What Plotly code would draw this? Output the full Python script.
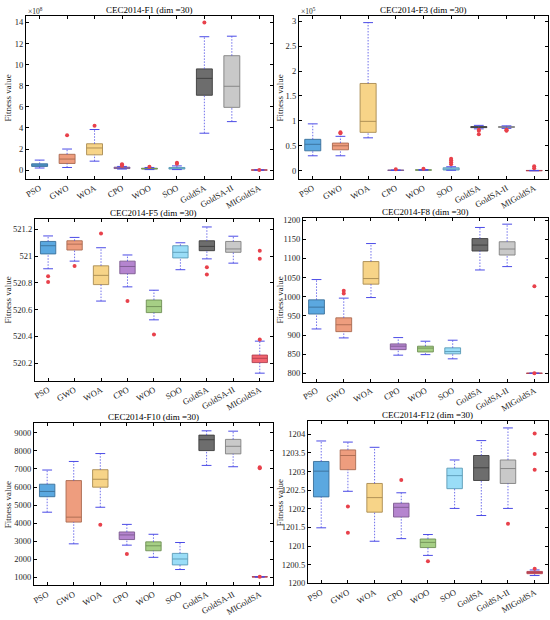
import plotly.graph_objects as go

# ---------------------------------------------------------------------------
# data
# ---------------------------------------------------------------------------
ALGOS = ["PSO", "GWO", "WOA", "CPO", "WOO", "SOO", "GoldSA", "GoldSA-II", "MIGoldSA"]

FILL = ["#5BA8E0", "#EE9D7E", "#F7D488", "#B585CF", "#A6CF85",
        "#9ADDF7", "#6D6D6D", "#C9C9C9", "#F26470"]
EDGE = ["#3A6F9A", "#A96A50", "#A88A50", "#7D5A90", "#6E8E55",
        "#5A9AB5", "#3C3C3C", "#808080", "#B04050"]

# CEC2014-F1 (x 1e8)
F1_LOW = [0.20, 0.25, 0.85, 0.10, 0.05, 0.05, 3.50, 4.60, 0.00]
F1_Q1 = [0.35, 0.63, 1.45, 0.15, 0.10, 0.10, 7.10, 5.95, 0.00]
F1_MED = [0.48, 1.05, 2.10, 0.22, 0.14, 0.18, 8.70, 7.95, 0.01]
F1_Q3 = [0.60, 1.50, 2.50, 0.28, 0.18, 0.25, 9.60, 10.85, 0.02]
F1_UP = [0.95, 2.00, 3.85, 0.35, 0.25, 0.40, 12.65, 12.70, 0.02]
F1_OUT_ALGO = ["GWO", "WOA", "CPO", "CPO", "CPO", "WOO", "SOO", "SOO", "GoldSA", "MIGoldSA"]
F1_OUT_VAL = [3.30, 4.20, 0.42, 0.50, 0.56, 0.32, 0.60, 0.70, 14.00, 0.02]

# CEC2014-F3 (x 1e5)
F3_LOW = [0.30, 0.30, 0.66, 0.005, 0.01, 0.01, 0.84, 0.85, 0.00]
F3_Q1 = [0.40, 0.42, 0.77, 0.008, 0.012, 0.015, 0.865, 0.87, 0.00]
F3_MED = [0.53, 0.50, 0.99, 0.010, 0.015, 0.030, 0.875, 0.875, 0.003]
F3_Q3 = [0.63, 0.555, 1.75, 0.012, 0.018, 0.060, 0.885, 0.885, 0.006]
F3_UP = [0.94, 0.69, 2.97, 0.015, 0.025, 0.080, 0.91, 0.90, 0.006]
F3_OUT_ALGO = ["GWO", "GWO", "CPO", "WOO", "SOO", "SOO", "SOO", "SOO",
               "GoldSA", "GoldSA", "GoldSA", "GoldSA-II", "GoldSA-II", "GoldSA-II",
               "MIGoldSA", "MIGoldSA"]
F3_OUT_VAL = [0.77, 0.75, 0.03, 0.04, 0.13, 0.17, 0.21, 0.24,
              0.82, 0.80, 0.73, 0.82, 0.81, 0.80, 0.05, 0.09]

# CEC2014-F5
F5_LOW = [520.905, 520.962, 520.664, 520.770, 520.524, 520.898, 520.979, 520.947, 520.126]
F5_Q1 = [521.016, 521.045, 520.787, 520.868, 520.578, 520.986, 521.040, 521.028, 520.205]
F5_MED = [521.077, 521.089, 520.856, 520.922, 520.623, 521.028, 521.072, 521.053, 520.237]
F5_Q3 = [521.109, 521.114, 520.927, 520.962, 520.672, 521.077, 521.114, 521.109, 520.261]
F5_UP = [521.150, 521.139, 521.062, 521.008, 520.745, 521.099, 521.217, 521.148, 520.365]
F5_OUT_ALGO = ["PSO", "PSO", "GWO", "WOA", "CPO", "WOO", "GoldSA", "GoldSA",
               "MIGoldSA", "MIGoldSA", "MIGoldSA"]
F5_OUT_VAL = [520.849, 520.807, 520.925, 521.168, 520.664, 520.414, 520.917, 520.863,
              520.377, 520.979, 521.040]

# CEC2014-F8
F8_LOW = [916, 892.6, 998, 847.6, 849, 838, 1070, 1078.8, 800]
F8_Q1 = [955, 909, 1033, 862, 856, 851, 1119.5, 1109, 800]
F8_MED = [973, 927, 1047.6, 871, 866, 857, 1135, 1124.7, 800.3]
F8_Q3 = [992, 945, 1092, 877, 871, 866.7, 1152, 1143.7, 800.6]
F8_UP = [1045, 996.5, 1139, 893.5, 884, 886.6, 1181, 1189.6, 800.6]
F8_OUT_ALGO = ["GWO", "GWO", "MIGoldSA", "MIGoldSA"]
F8_OUT_VAL = [1015.6, 1008.7, 1027.7, 800.5]

# CEC2014-F10
F10_LOW = [4607, 2858, 4880, 2785, 2111, 1437, 7193, 7120, 1020]
F10_Q1 = [5463, 4060, 5991, 3095, 2475, 1692, 8013, 7831, 1025]
F10_MED = [5754, 4333, 6428, 3350, 2749, 2020, 8614, 8250, 1030]
F10_Q3 = [6155, 6355, 6956, 3514, 2967, 2330, 8869, 8632, 1040]
F10_UP = [6938, 7412, 7849, 3933, 3386, 2931, 9106, 9087, 1045]
F10_OUT_ALGO = ["WOA", "CPO", "MIGoldSA", "MIGoldSA", "MIGoldSA"]
F10_OUT_VAL = [3914, 2293, 7030, 7090, 1035]

# CEC2014-F12
F12_LOW = [1201.49, 1202.47, 1201.13, 1201.20, 1200.75, 1202.01, 1201.82, 1202.01, 1200.21]
F12_Q1 = [1202.32, 1203.05, 1201.91, 1201.78, 1200.96, 1202.54, 1202.76, 1202.68, 1200.26]
F12_MED = [1203.01, 1203.43, 1202.30, 1202.04, 1201.10, 1202.89, 1203.10, 1203.08, 1200.29]
F12_Q3 = [1203.27, 1203.58, 1202.68, 1202.15, 1201.19, 1203.09, 1203.43, 1203.31, 1200.32]
F12_UP = [1203.82, 1203.79, 1203.65, 1202.43, 1201.31, 1203.31, 1203.83, 1204.17, 1200.36]
F12_OUT_ALGO = ["GWO", "GWO", "CPO", "WOO", "GoldSA-II",
                "MIGoldSA", "MIGoldSA", "MIGoldSA", "MIGoldSA"]
F12_OUT_VAL = [1202.06, 1201.36, 1202.77, 1200.59, 1201.60,
               1200.39, 1203.05, 1203.47, 1204.02]

# ---------------------------------------------------------------------------
# panel settings
# ---------------------------------------------------------------------------
FONT = "Liberation Serif"
TXT = "#262626"
WHISKER = "#4B4BE6"
OUTLIER = "#E8414B"
W, H = 550, 620

PANELS = [
    # title, data, y range, dtick, tickformat, exponent, axes box (px: left, right, top, bottom), y-title x (px)
    ("CEC2014-F1 (dim =30)", (F1_LOW, F1_Q1, F1_MED, F1_Q3, F1_UP, F1_OUT_ALGO, F1_OUT_VAL),
     [-0.84, 14.63], 2, None, "8", (24, 272, 14, 179), 6),
    ("CEC2014-F3 (dim =30)", (F3_LOW, F3_Q1, F3_MED, F3_Q3, F3_UP, F3_OUT_ALGO, F3_OUT_VAL),
     [-0.165, 3.106], 0.5, None, "5", (298, 548, 14, 179), 279),
    ("CEC2014-F5 (dim =30)", (F5_LOW, F5_Q1, F5_MED, F5_Q3, F5_UP, F5_OUT_ALGO, F5_OUT_VAL),
     [520.07, 521.28], 0.2, ".4~g", None, (33, 272, 219, 383), 6),
    ("CEC2014-F8 (dim =30)", (F8_LOW, F8_Q1, F8_MED, F8_Q3, F8_UP, F8_OUT_ALGO, F8_OUT_VAL),
     [778.4, 1206.9], 50, "d", None, (302, 548, 218, 384), 279),
    ("CEC2014-F10 (dim =30)", (F10_LOW, F10_Q1, F10_MED, F10_Q3, F10_UP, F10_OUT_ALGO, F10_OUT_VAL),
     [563, 9528], 1000, "d", None, (32, 272, 426, 590), 6),
    ("CEC2014-F12 (dim =30)", (F12_LOW, F12_Q1, F12_MED, F12_Q3, F12_UP, F12_OUT_ALGO, F12_OUT_VAL),
     [1200.0, 1204.35], 0.5, ".5~g", None, (307, 548, 424, 588), 279),
]

fig = go.Figure()
positions = list(range(1, len(ALGOS) + 1))
annotations = []

for k, (title, data, yrange, dtick, tfmt, expo, box, ytx) in enumerate(PANELS):
    low, q1, med, q3, up, out_algo, out_val = data
    xa = "x" if k == 0 else f"x{k + 1}"
    ya = "y" if k == 0 else f"y{k + 1}"

    # dotted whiskers
    wx, wy = [], []
    for p, lo, a, b, hi in zip(positions, low, q1, q3, up):
        wx += [p, p, None, p, p, None]
        wy += [lo, a, None, b, hi, None]
    fig.add_trace(go.Scatter(x=wx, y=wy, mode="lines", xaxis=xa, yaxis=ya,
                             line=dict(color=WHISKER, width=0.8, dash="1.5px,1.5px"),
                             hoverinfo="skip"))
    # whisker caps
    fig.add_trace(go.Scatter(x=positions + positions, y=low + up, mode="markers",
                             xaxis=xa, yaxis=ya, hoverinfo="skip",
                             marker=dict(symbol="line-ew", size=7,
                                         line=dict(color=WHISKER, width=1))))
    # boxes
    for i, name in enumerate(ALGOS):
        fig.add_trace(go.Box(x=[positions[i]], q1=[q1[i]], median=[med[i]], q3=[q3[i]],
                             lowerfence=[q1[i]], upperfence=[q3[i]],
                             width=0.58, whiskerwidth=0, name=name,
                             fillcolor=FILL[i], line=dict(color=EDGE[i], width=0.9),
                             xaxis=xa, yaxis=ya, boxpoints=False))
    # outliers
    fig.add_trace(go.Scatter(x=[ALGOS.index(a) + 1 for a in out_algo], y=out_val,
                             mode="markers", xaxis=xa, yaxis=ya,
                             marker=dict(symbol="circle", size=4, color=OUTLIER)))

    l, r, t, b = box
    xdom = [l / W, r / W]
    ydom = [1 - b / H, 1 - t / H]
    axis_common = dict(showline=True, linecolor="black", linewidth=1, mirror="allticks",
                       ticks="inside", ticklen=3, tickcolor="black", showgrid=False,
                       zeroline=False, tickfont=dict(family=FONT, size=8.5, color=TXT))
    fig.layout[("xaxis" if k == 0 else f"xaxis{k + 1}")] = dict(
        domain=xdom, anchor=ya, range=[0.5, 9.5], tickvals=positions, ticktext=ALGOS,
        tickangle=-30, **axis_common)
    yax = dict(domain=ydom, anchor=xa, range=yrange, dtick=dtick, **axis_common)
    if tfmt:
        yax["tickformat"] = tfmt
    fig.layout[("yaxis" if k == 0 else f"yaxis{k + 1}")] = yax

    annotations.append(dict(text=title, x=(xdom[0] + xdom[1]) / 2, y=ydom[1],
                            xref="paper", yref="paper", xanchor="center", yanchor="bottom",
                            showarrow=False, yshift=-1,
                            font=dict(family=FONT, size=9, color="black")))
    annotations.append(dict(text="Fitness value", x=ytx / W, y=(ydom[0] + ydom[1]) / 2,
                            xref="paper", yref="paper", xanchor="center", yanchor="middle",
                            textangle=-90, showarrow=False,
                            font=dict(family=FONT, size=9, color=TXT)))
    if expo:
        annotations.append(dict(text=f"×10<sup>{expo}</sup>", x=xdom[0], y=ydom[1],
                                xref="paper", yref="paper", xanchor="left", yanchor="bottom",
                                showarrow=False, yshift=-2,
                                font=dict(family=FONT, size=7.5, color=TXT)))

fig.update_layout(width=W, height=H, margin=dict(l=0, r=0, t=0, b=0),
                  showlegend=False, boxmode="overlay",
                  plot_bgcolor="white", paper_bgcolor="white",
                  annotations=annotations)

# the page body has a default margin; drop it so the figure fills the window
fig.write_html("out.html", config={"displayModeBar": False},
               post_script="document.body.style.margin='0';document.body.style.overflow='hidden';")
